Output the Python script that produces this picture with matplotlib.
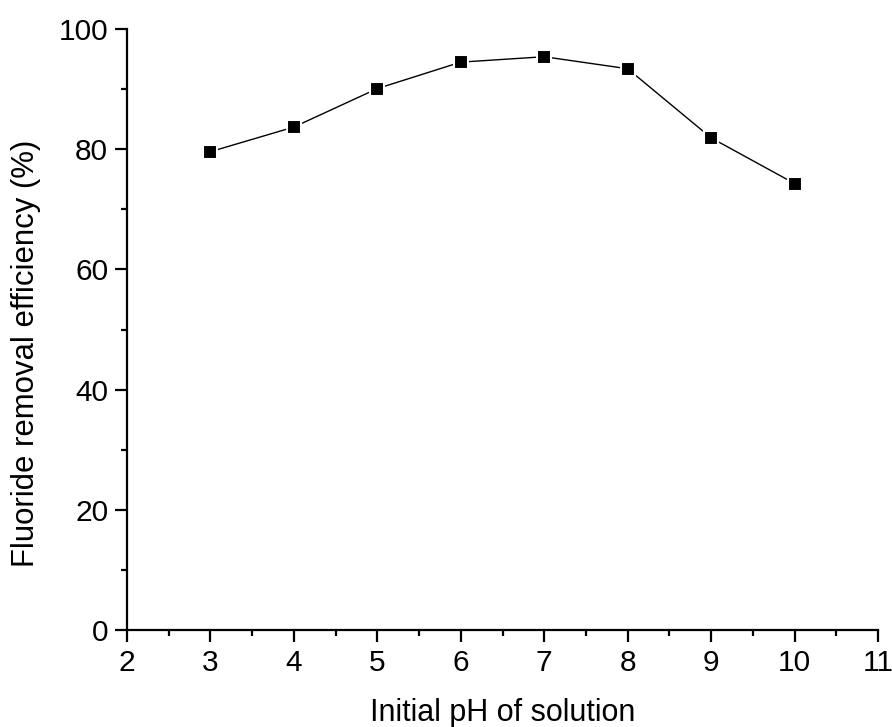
import matplotlib
matplotlib.use("Agg")
import matplotlib.pyplot as plt
from matplotlib.ticker import MultipleLocator

ph = [3, 4, 5, 6, 7, 8, 9, 10]
efficiency = [79.6, 83.7, 90.1, 94.5, 95.4, 93.4, 81.9, 74.3]

plt.rcParams['font.family'] = ['Liberation Sans', 'DejaVu Sans']

fig = plt.figure(figsize=(8.92, 7.27), dpi=100)
ax = fig.add_axes([0.1424, 0.1334, 0.8419, 0.8266])
ax.plot(ph, efficiency, color='black', lw=1.0, marker='s', ms=10.5,
        mfc='black', mec='white', mew=1.5)
ax.set_xlim(2, 11)
ax.set_ylim(0, 100)
ax.xaxis.set_major_locator(MultipleLocator(1))
ax.xaxis.set_minor_locator(MultipleLocator(0.5))
ax.yaxis.set_major_locator(MultipleLocator(20))
ax.yaxis.set_minor_locator(MultipleLocator(10))
for s in ['top', 'right']:
    ax.spines[s].set_visible(False)
for s in ['left', 'bottom']:
    ax.spines[s].set_linewidth(1.6)
ax.tick_params(which='major', direction='out', length=8.6, width=1.6, labelsize=21.5, pad=5)
ax.tick_params(which='minor', direction='out', length=4.3, width=1.6)
ax.set_xlabel('Initial pH of solution', fontsize=22, labelpad=15)
ax.set_ylabel('Fluoride removal efficiency (%)', fontsize=22.4, labelpad=12)
ax.yaxis.set_label_coords(-0.114, 0.461)
fig.savefig('out.png', dpi=100)
